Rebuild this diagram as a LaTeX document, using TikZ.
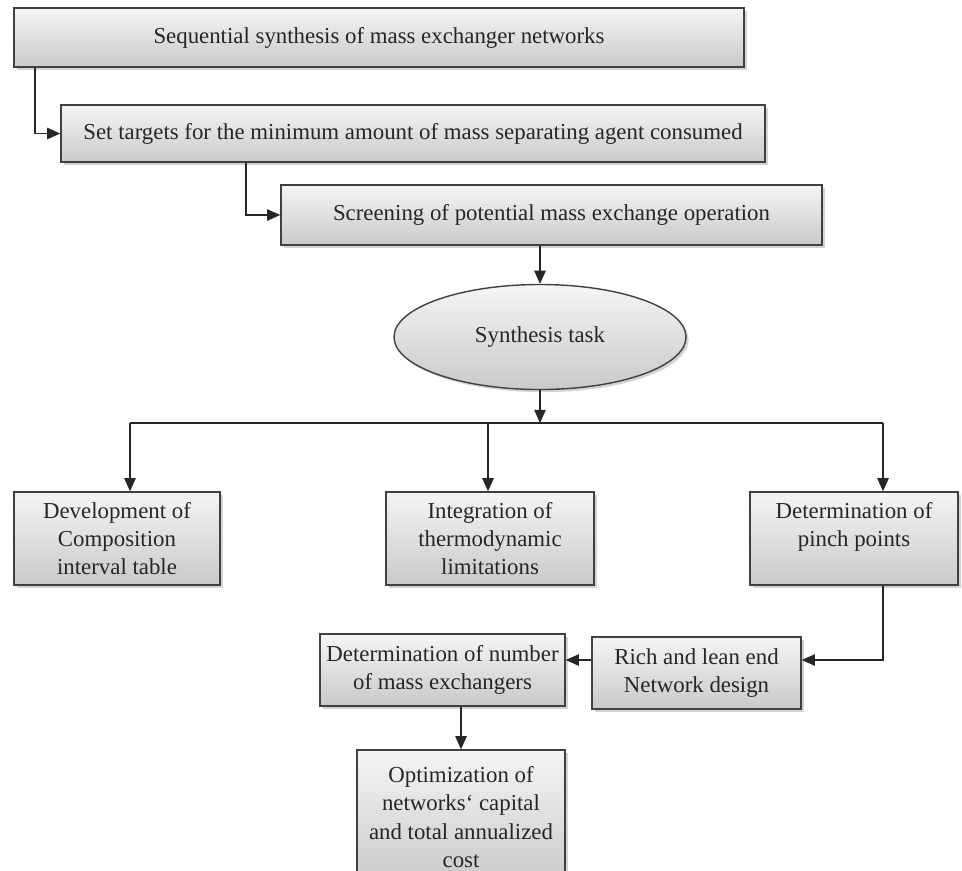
\documentclass[tikz,border=0pt]{standalone}
\usepackage{fontspec}
\setmainfont{Liberation Serif}
\usepackage{tikz}
\usetikzlibrary{shapes.geometric,shadows,arrows.meta}

\begin{document}
\begin{tikzpicture}[x=0.02cm, y=-0.02cm, line width=0.8pt,
  font=\fontsize{13pt}{16pt}\selectfont,
  >={Triangle[length=7.5pt,width=6.5pt]},
  conn/.style={draw=black!85},
  box/.style={draw=black!75, top color=gray!8, bottom color=gray!42,
    drop shadow={shadow xshift=1.5pt, shadow yshift=-1.5pt, opacity=0.35},
    align=center, inner sep=2pt, text=black!85}]
\clip (0,0) rectangle (962,870);
\useasboundingbox (0,0) rectangle (962,870);
% Sequential steps
\node[box, minimum width=730*0.02cm, minimum height=59*0.02cm] (seq) at (379,37.5) {Sequential synthesis of mass exchanger networks};
\node[box, minimum width=704*0.02cm, minimum height=57*0.02cm] (set) at (413,133.5) {Set targets for the minimum amount of mass separating agent consumed};
\node[box, minimum width=541*0.02cm, minimum height=60*0.02cm] (scr) at (551.5,215) {Screening of potential mass exchange operation};
\node[box, ellipse, minimum width=292*0.02cm, minimum height=105*0.02cm] (task) at (540,337) {Synthesis task};
% Three branches
\node[box, minimum width=206*0.02cm, minimum height=93*0.02cm] (dev) at (117,538.5) {Development of\\Composition\\interval table};
\node[box, minimum width=208*0.02cm, minimum height=93*0.02cm] (thermo) at (490,538.5) {Integration of\\thermodynamic\\limitations};
\node[box, minimum width=208*0.02cm, minimum height=93*0.02cm] (pinch) at (854,538.5) {Determination of\\pinch points\\\phantom{x}};
% Design and optimization
\node[box, minimum width=209*0.02cm, minimum height=72*0.02cm] (rich) at (696.5,673) {Rich and lean end\\Network design};
\node[box, minimum width=245*0.02cm, minimum height=72*0.02cm] (num) at (442.5,670) {Determination of number\\of mass exchangers};
\node[box, minimum width=208*0.02cm, minimum height=134*0.02cm] (opt) at (461,817) {Optimization of\\networks\textquoteleft\ capital\\and total annualized\\cost};
% Connectors
\coordinate (c1) at (35,134);
\coordinate (c2) at (246,211);
\coordinate (br) at (540,423);
\coordinate (bl) at (130,423);
\coordinate (bm) at (488,423);
\coordinate (bn) at (883,423);
\coordinate (pr) at (883,660);
\draw[conn, ->] (seq.south -| c1) |- (set.west);
\draw[conn, ->] (set.south -| c2) |- (scr.west);
\draw[conn, ->] (scr.south -| task) -- (task.north);
\draw[conn, ->] (task.south) -- (br);
\draw[conn] (bl) -- (bn);
\draw[conn, ->] (bl) -- (bl |- dev.north);
\draw[conn, ->] (bm) -- (bm |- thermo.north);
\draw[conn, ->] (bn) -- (bn |- pinch.north);
\draw[conn, ->] (pinch.south -| pr) -- (pr) -- (pr -| rich.east);
\draw[conn, ->] (rich.west |- pr) -- (num.east |- pr);
\draw[conn, ->] (num.south -| opt) -- (opt.north);
\end{tikzpicture}
\end{document}
